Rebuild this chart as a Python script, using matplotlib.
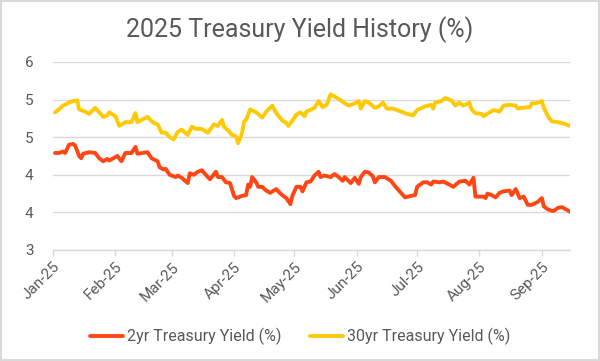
import math
import pandas as pd
import matplotlib
matplotlib.use("Agg")
import matplotlib.pyplot as plt
import matplotlib.dates as mdates
from matplotlib.ticker import FuncFormatter, MultipleLocator

# 30yr series
dates_30yr = [
    "2025-01-02", "2025-01-04", "2025-01-06", "2025-01-09", "2025-01-11", "2025-01-13",
    "2025-01-14", "2025-01-17", "2025-01-19", "2025-01-22", "2025-01-26", "2025-01-28",
    "2025-01-29", "2025-02-01", "2025-02-03", "2025-02-06", "2025-02-09", "2025-02-11",
    "2025-02-12", "2025-02-17", "2025-02-20", "2025-02-22", "2025-02-24", "2025-02-26",
    "2025-02-28", "2025-03-02", "2025-03-04", "2025-03-06", "2025-03-09", "2025-03-11",
    "2025-03-13", "2025-03-16", "2025-03-19", "2025-03-22", "2025-03-24", "2025-03-26",
    "2025-03-27", "2025-03-29", "2025-03-31", "2025-04-02", "2025-04-03", "2025-04-05",
    "2025-04-06", "2025-04-07", "2025-04-09", "2025-04-12", "2025-04-15", "2025-04-17",
    "2025-04-20", "2025-04-22", "2025-04-25", "2025-04-27", "2025-04-28", "2025-04-30",
    "2025-05-02", "2025-05-04", "2025-05-06", "2025-05-07", "2025-05-11", "2025-05-13",
    "2025-05-15", "2025-05-17", "2025-05-19", "2025-05-21", "2025-05-24", "2025-05-26",
    "2025-05-28", "2025-05-31", "2025-06-02", "2025-06-03", "2025-06-05", "2025-06-07",
    "2025-06-10", "2025-06-12", "2025-06-14", "2025-06-16", "2025-06-19", "2025-06-23",
    "2025-06-26", "2025-06-29", "2025-07-01", "2025-07-05", "2025-07-08", "2025-07-09",
    "2025-07-10", "2025-07-13", "2025-07-15", "2025-07-18", "2025-07-20", "2025-07-22",
    "2025-07-24", "2025-07-27", "2025-07-28", "2025-07-30", "2025-08-02", "2025-08-03",
    "2025-08-06", "2025-08-08", "2025-08-11", "2025-08-13", "2025-08-16", "2025-08-19",
    "2025-08-20", "2025-08-22", "2025-08-26", "2025-08-27", "2025-08-29", "2025-09-01",
    "2025-09-02", "2025-09-04", "2025-09-06", "2025-09-09", "2025-09-12", "2025-09-15",
]
yield_30yr = [
    4.83, 4.87, 4.92, 4.96, 4.98, 4.99,
    4.87, 4.84, 4.81, 4.89, 4.77, 4.79,
    4.83, 4.78, 4.65, 4.70, 4.70, 4.82,
    4.70, 4.77, 4.69, 4.67, 4.56, 4.56,
    4.50, 4.47, 4.57, 4.60, 4.53, 4.64,
    4.61, 4.61, 4.56, 4.67, 4.65, 4.73,
    4.64, 4.59, 4.53, 4.51, 4.42, 4.56,
    4.71, 4.73, 4.87, 4.83, 4.76, 4.84,
    4.92, 4.82, 4.72, 4.69, 4.65, 4.72,
    4.80, 4.83, 4.78, 4.84, 4.89, 4.98,
    4.90, 4.93, 5.07, 5.04, 4.99, 4.95,
    4.92, 4.95, 4.98, 4.88, 4.98, 4.96,
    4.89, 4.91, 4.96, 4.88, 4.88, 4.84,
    4.81, 4.79, 4.86, 4.91, 4.93, 4.88,
    4.96, 4.98, 5.02, 4.99, 4.92, 4.96,
    4.92, 4.96, 4.87, 4.82, 4.81, 4.78,
    4.83, 4.86, 4.84, 4.92, 4.93, 4.92,
    4.88, 4.89, 4.90, 4.95, 4.95, 4.98,
    4.89, 4.78, 4.71, 4.70, 4.68, 4.65,
]

# 2yr series
dates_2yr = [
    "2025-01-02", "2025-01-04", "2025-01-06", "2025-01-07", "2025-01-09", "2025-01-11",
    "2025-01-12", "2025-01-14", "2025-01-15", "2025-01-16", "2025-01-19", "2025-01-22",
    "2025-01-24", "2025-01-26", "2025-01-28", "2025-01-29", "2025-02-02", "2025-02-04",
    "2025-02-06", "2025-02-09", "2025-02-11", "2025-02-12", "2025-02-17", "2025-02-19",
    "2025-02-22", "2025-02-23", "2025-02-25", "2025-02-26", "2025-02-28", "2025-03-03",
    "2025-03-04", "2025-03-06", "2025-03-09", "2025-03-10", "2025-03-12", "2025-03-14",
    "2025-03-16", "2025-03-18", "2025-03-20", "2025-03-23", "2025-03-24", "2025-03-26",
    "2025-03-28", "2025-03-30", "2025-04-01", "2025-04-02", "2025-04-05", "2025-04-07",
    "2025-04-08", "2025-04-09", "2025-04-10", "2025-04-12", "2025-04-13", "2025-04-15",
    "2025-04-17", "2025-04-19", "2025-04-22", "2025-04-24", "2025-04-27", "2025-04-29",
    "2025-04-30", "2025-05-02", "2025-05-04", "2025-05-05", "2025-05-07", "2025-05-09",
    "2025-05-11", "2025-05-13", "2025-05-14", "2025-05-16", "2025-05-19", "2025-05-21",
    "2025-05-23", "2025-05-25", "2025-05-26", "2025-05-29", "2025-05-31", "2025-06-02",
    "2025-06-03", "2025-06-05", "2025-06-07", "2025-06-09", "2025-06-10", "2025-06-12",
    "2025-06-15", "2025-06-18", "2025-06-20", "2025-06-23", "2025-06-25", "2025-06-28",
    "2025-06-30", "2025-07-01", "2025-07-04", "2025-07-06", "2025-07-08", "2025-07-09",
    "2025-07-12", "2025-07-14", "2025-07-17", "2025-07-19", "2025-07-22", "2025-07-25",
    "2025-07-27", "2025-07-29", "2025-07-30", "2025-08-01", "2025-08-03", "2025-08-04",
    "2025-08-05", "2025-08-07", "2025-08-09", "2025-08-11", "2025-08-13", "2025-08-16",
    "2025-08-17", "2025-08-19", "2025-08-21", "2025-08-23", "2025-08-25", "2025-08-27",
    "2025-08-30", "2025-09-01", "2025-09-02", "2025-09-04", "2025-09-06", "2025-09-07",
    "2025-09-09", "2025-09-11", "2025-09-13", "2025-09-15",
]
yield_2yr = [
    4.29, 4.29, 4.31, 4.29, 4.40, 4.41,
    4.39, 4.25, 4.22, 4.28, 4.30, 4.29,
    4.22, 4.18, 4.21, 4.19, 4.25, 4.18,
    4.29, 4.29, 4.37, 4.28, 4.30, 4.22,
    4.18, 4.10, 4.07, 4.08, 4.00, 3.97,
    3.99, 3.96, 3.89, 4.02, 4.00, 4.04,
    4.06, 4.00, 3.94, 4.04, 3.97, 3.97,
    3.90, 3.89, 3.72, 3.69, 3.72, 3.73,
    3.87, 3.84, 3.97, 3.90, 3.84, 3.84,
    3.79, 3.76, 3.81, 3.75, 3.69, 3.61,
    3.72, 3.84, 3.84, 3.78, 3.90, 3.91,
    3.99, 4.04, 3.97, 3.99, 3.97, 4.01,
    3.97, 3.92, 3.97, 3.89, 3.96, 3.88,
    3.97, 4.04, 4.03, 3.98, 3.90, 3.97,
    3.97, 3.92, 3.85, 3.76, 3.70, 3.72,
    3.73, 3.84, 3.90, 3.90, 3.87, 3.91,
    3.90, 3.91, 3.87, 3.84, 3.91, 3.92,
    3.87, 3.96, 3.71, 3.71, 3.71, 3.69,
    3.75, 3.73, 3.70, 3.76, 3.78, 3.79,
    3.73, 3.81, 3.69, 3.71, 3.60, 3.60,
    3.64, 3.69, 3.58, 3.54, 3.52, 3.52,
    3.56, 3.57, 3.54, 3.51,
]

x_start = "2025-01-01"
x_end = "2025-09-15"

red = "#FF4614"
gold = "#FFCA05"
grid_col = "#D9D9D9"
text_col = "#595959"

plt.rcParams["font.family"] = ["Roboto", "DejaVu Sans"]

fig = plt.figure(figsize=(6, 3.61), dpi=100)
ax = fig.add_axes([0.0883, 0.3075, 0.8617, 0.5208])

ax.plot(pd.to_datetime(dates_2yr), yield_2yr, color=red, lw=2.8,
        solid_joinstyle="round", solid_capstyle="round", label="2yr Treasury Yield (%)")
ax.plot(pd.to_datetime(dates_30yr), yield_30yr, color=gold, lw=2.8,
        solid_joinstyle="round", solid_capstyle="round", label="30yr Treasury Yield (%)")

ax.set_xlim(pd.Timestamp(x_start), pd.Timestamp(x_end))
ax.set_ylim(3.0, 5.5)
ax.yaxis.set_major_locator(MultipleLocator(0.5))
ax.yaxis.set_major_formatter(FuncFormatter(lambda v, p: str(int(math.floor(v + 0.5)))))

ax.xaxis.set_major_locator(mdates.MonthLocator())
ax.xaxis.set_major_formatter(mdates.DateFormatter("%b-%y"))

ax.grid(axis="y", color=grid_col, lw=1.0)
ax.set_axisbelow(True)
for s in ["left", "right", "top"]:
    ax.spines[s].set_visible(False)
ax.spines["bottom"].set_color(grid_col)
ax.spines["bottom"].set_linewidth(1.0)

ax.tick_params(axis="y", length=0, pad=14, labelsize=11, labelcolor=text_col)
ax.tick_params(axis="x", length=4, color=grid_col, width=1, pad=3,
               labelsize=11, labelcolor=text_col)
for lbl in ax.get_xticklabels():
    lbl.set_rotation(45)
    lbl.set_ha("right")
    lbl.set_va("top")
    lbl.set_rotation_mode("anchor")

fig.text(0.5, 1 - 37 / 361, "2025 Treasury Yield History (%)", ha="center", va="baseline",
         fontsize=18, color=text_col)

fig.legend(loc="center", bbox_to_anchor=(0.5, 1 - 336.5 / 361), ncol=2, frameon=False,
           fontsize=11.5, labelcolor=text_col, handlelength=2.1, handletextpad=0.2,
           columnspacing=1.8)

border = plt.Rectangle((0.002, 0.003), 0.996, 0.994, transform=fig.transFigure,
                       fill=False, edgecolor=grid_col, lw=1.5)
fig.patches.append(border)

fig.savefig("out.png", dpi=100)
